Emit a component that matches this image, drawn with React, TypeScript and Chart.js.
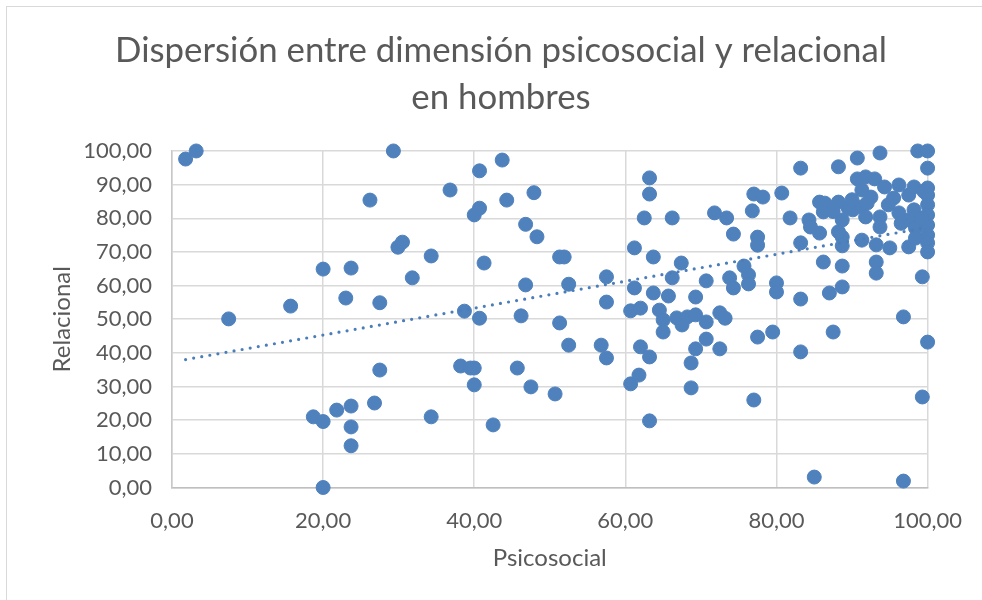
import React, { useEffect, useRef } from "react";
import { Chart, registerables } from "chart.js";

Chart.register(...registerables);

const titleLines = ["Dispersión entre dimensión psicosocial y relacional", "en hombres"];
const xAxisTitle = "Psicosocial";
const yAxisTitle = "Relacional";

const psicosocial = [
  1.8, 3.2, 7.5, 15.7, 18.7, 20.0, 20.0, 20.0, 21.8, 23.7, 23.7, 23.7, 23.7, 23.0, 26.2, 26.8, 27.5, 27.5, 29.3, 29.9,
  30.5, 31.8, 34.3, 34.3, 36.8, 38.2, 38.7, 39.5, 40.0, 40.0, 40.0, 40.7, 40.7, 40.7, 41.3, 42.5, 43.7, 44.3, 45.7, 46.2,
  46.8, 46.8, 47.5, 47.9, 48.3,
  51.3, 51.9, 52.5, 51.3, 52.5, 50.7, 56.8, 57.5, 57.5, 57.5,
  60.7, 62.0, 60.7, 61.8, 61.2, 61.2, 62.0, 62.5, 63.2, 63.2, 63.2, 63.2, 63.7, 63.7,
  64.5, 65.0, 65.0, 65.7, 66.2, 66.2, 66.8, 67.4, 67.5, 68.2, 68.7, 68.7, 69.3, 69.3, 69.3,
  70.7, 70.7, 70.7, 71.8, 72.5, 72.5, 73.2, 73.4, 73.8, 74.3, 74.3, 75.7, 76.3, 76.3,
  77.0, 78.2, 76.8, 77.5, 77.5, 77.5, 77.0, 79.5, 80.0, 80.0, 80.7, 81.8,
  83.2, 83.2, 83.2, 83.2, 84.3, 84.5, 85.7, 85.7, 86.4, 86.2, 86.2, 85.0, 87.0, 87.5,
  88.2, 88.2, 88.7, 88.7, 88.7, 88.2, 88.7, 88.7,
  90.1, 90.7, 90.7, 91.8, 93.0, 91.3, 92.5, 91.3, 91.8, 91.3, 93.7, 93.7, 93.2, 93.2, 93.2, 93.7,
  94.3, 95.5, 95.0, 96.2, 96.2, 96.8, 96.8, 97.5, 97.5, 97.5, 98.2, 98.2, 98.4, 98.4, 98.7, 99.3, 99.3,
  100, 100, 100, 100, 100, 100, 100, 100, 100, 100, 100,
  89.5, 90.0, 92.0, 94.8, 96.5, 99.2, 99.5, 87.5,
];

const relacional = [
  97.6, 100, 50.1, 53.9, 21.0, 19.6, 0.0, 64.9, 23.0, 24.2, 18.0, 12.4, 65.2, 56.3, 85.4, 25.1, 54.9, 34.9, 100, 71.4,
  72.9, 62.3, 68.8, 21.0, 88.4, 36.1, 52.4, 35.5, 35.5, 30.5, 81.0, 83.0, 94.1, 50.3, 66.7, 18.6, 97.3, 85.4, 35.5, 51.0,
  78.2, 60.2, 29.9, 87.6, 74.5,
  68.5, 68.5, 60.4, 48.9, 42.3, 27.8, 42.3, 62.6, 55.1, 38.5,
  52.5, 53.3, 30.8, 33.4, 71.2, 59.3, 41.8, 80.1, 92.0, 87.2, 38.8, 19.8, 68.5, 57.8,
  52.7, 49.8, 46.2, 56.9, 80.1, 62.3, 50.4, 66.7, 48.3, 50.7, 37.0, 29.6, 56.6, 51.3, 41.2,
  61.4, 49.2, 44.1, 81.6, 51.9, 41.2, 50.3, 80.1, 62.3, 59.3, 75.3, 65.8, 63.2, 60.5,
  87.2, 86.3, 82.2, 74.4, 72.0, 44.7, 26.0, 46.2, 60.8, 58.1, 87.5, 80.1,
  94.9, 72.7, 56.0, 40.3, 79.5, 77.4, 75.6, 84.8, 84.5, 81.9, 67.0, 3.1, 57.8, 46.2,
  95.3, 84.8, 79.5, 74.4, 71.8, 76.0, 65.8, 59.6,
  82.5, 97.9, 91.7, 92.3, 91.7, 88.4, 86.3, 83.4, 80.4, 73.5, 80.4, 77.4, 72.1, 67.0, 63.7, 99.4,
  89.3, 86.0, 71.2, 89.9, 81.6, 50.7, 1.9, 86.9, 79.5, 71.5, 89.3, 82.5, 77.1, 74.1, 100, 62.6, 26.9,
  100, 94.9, 89.0, 86.9, 84.0, 81.0, 78.0, 75.0, 72.7, 70.0, 43.2,
  83.0, 85.5, 84.5, 84.0, 78.5, 80.0, 88.0, 82.0,
];

// Linear trendline
const trendIntercept = 37.3;
const trendSlope = 0.4;

const xTicks = [0, 20, 40, 60, 80, 100];
const yTicks = [0, 10, 20, 30, 40, 50, 60, 70, 80, 90, 100];

const fmt = (v: number) => v.toFixed(2).replace(".", ",");

export default function App() {
  const ref = useRef<HTMLCanvasElement | null>(null);

  useEffect(() => {
    if (!ref.current) return;
    const points = psicosocial.map((x, i) => ({ x, y: relacional[i] }));
    const xMin = Math.min(...psicosocial);
    const xMax = Math.max(...psicosocial);
    const trend = [
      { x: xMin, y: trendIntercept + trendSlope * xMin },
      { x: xMax, y: trendIntercept + trendSlope * xMax },
    ];
    const text = "#595959";
    const font = "Lato, 'Open Sans', sans-serif";
    const chart = new Chart(ref.current, {
      type: "scatter",
      data: {
        datasets: [
          {
            type: "line",
            label: "Tendencia",
            data: trend,
            borderColor: "#4a7ebb",
            borderWidth: 3.2,
            borderDash: [0, 8.2],
            borderCapStyle: "round",
            pointRadius: 0,
            fill: false,
            order: 0,
            clip: false,
          } as any,
          {
            label: "Relacional",
            data: points,
            backgroundColor: "#4f81bd",
            borderColor: "#4f81bd",
            borderWidth: 1,
            pointRadius: 7,
            pointHoverRadius: 7,
            order: 1,
            clip: false,
          } as any,
        ],
      },
      options: {
        animation: false,
        responsive: false,
        maintainAspectRatio: false,
        layout: { padding: { left: 70, right: 50, top: 0, bottom: 0 } },
        plugins: {
          legend: { display: false },
          tooltip: { enabled: false },
          title: {
            display: true,
            text: titleLines,
            color: text,
            font: { family: font, size: 34.8, weight: "normal", lineHeight: 1.33 },
            padding: { top: 28, bottom: 30.4 },
          },
        },
        scales: {
          x: {
            type: "linear",
            min: 0,
            max: 100,
            afterFit: (s: any) => {
              s.height = 112.5;
            },
            afterBuildTicks: (s: any) => {
              s.ticks = xTicks.map((v) => ({ value: v }));
            },
            ticks: {
              color: text,
              font: { family: font, size: 22 },
              padding: 20,
              callback: (v: any) => fmt(Number(v)),
              maxRotation: 0,
            },
            grid: { color: "#d9d9d9", lineWidth: 1.5, drawTicks: false },
            border: { color: "#bfbfbf", width: 1.5 },
            title: {
              display: true,
              text: xAxisTitle,
              color: text,
              font: { family: font, size: 24 },
              padding: { top: 0, bottom: 27.6 },
            },
          },
          y: {
            type: "linear",
            min: 0,
            max: 100,
            afterFit: (s: any) => {
              s.width = 102;
            },
            afterBuildTicks: (s: any) => {
              s.ticks = yTicks.map((v) => ({ value: v }));
            },
            ticks: {
              color: text,
              font: { family: font, size: 22 },
              padding: 20,
              callback: (v: any) => fmt(Number(v)),
            },
            grid: { color: "#d9d9d9", lineWidth: 1.5, drawTicks: false },
            border: { color: "#c8c8c8", width: 1.5 },
            title: {
              display: true,
              text: yAxisTitle,
              color: text,
              font: { family: font, size: 24 },
              padding: { top: -22.4, bottom: 0 },
            },
          },
        },
      },
    });
    return () => chart.destroy();
  }, []);

  return (
    <div style={{ position: "absolute", left: 0, top: 0, width: 982, height: 600, overflow: "hidden", background: "#fff" }}>
      <div
        style={{
          position: "absolute",
          left: 6,
          top: 6,
          width: 1000,
          height: 620,
          border: "1px solid #d9d9d9",
        }}
      />
      <canvas ref={ref} width={982} height={600} style={{ position: "absolute", left: 0, top: 0, width: 982, height: 600 }} />
    </div>
  );
}
